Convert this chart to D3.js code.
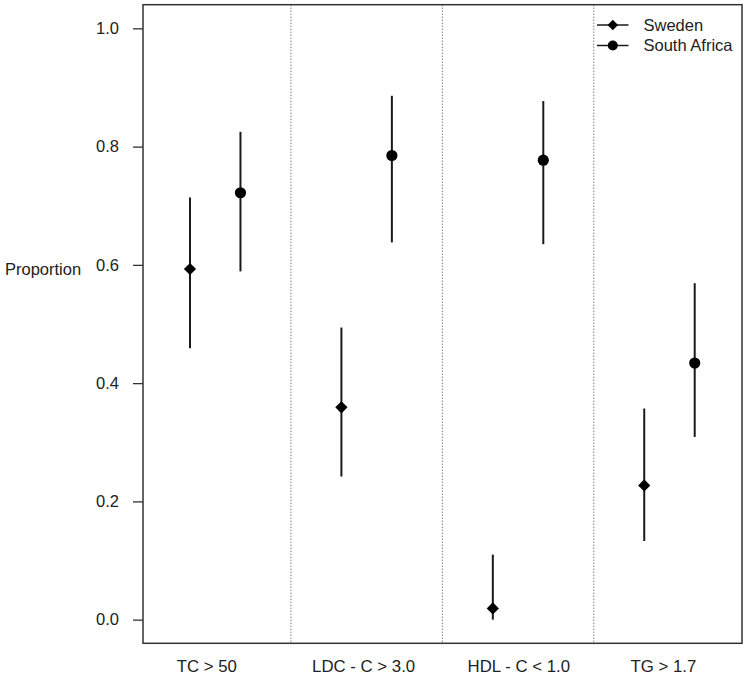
<!DOCTYPE html>
<html>
<head>
<meta charset="utf-8">
<script src="https://cdn.jsdelivr.net/npm/d3@7"></script>
<style>
  body { margin: 0; background: #fff; }
  svg text { font-family: "Liberation Sans", Arial, Helvetica, sans-serif; fill: #222; }
</style>
</head>
<body>
<svg id="chart" width="747" height="677"></svg>
<script>
// data
const categories = ["TC > 50", "LDC - C > 3.0", "HDL - C < 1.0", "TG > 1.7"];
const labelPos = [0.945, 1.98, 3.005, 3.96];   // where the group labels sit (x units)
const swedenEst   = [0.593, 0.359, 0.019, 0.227];
const swedenLow   = [0.459, 0.242, 0.000, 0.133];
const swedenHigh  = [0.714, 0.494, 0.110, 0.357];
const safricaEst  = [0.722, 0.785, 0.777, 0.434];
const safricaLow  = [0.589, 0.638, 0.635, 0.309];
const safricaHigh = [0.825, 0.886, 0.877, 0.569];
const yTicks = [0, 0.2, 0.4, 0.6, 0.8, 1.0];

const series = [
  { name: "Sweden", offset: -1/6, shape: "diamond", est: swedenEst, lo: swedenLow, hi: swedenHigh },
  { name: "South Africa", offset: 1/6, shape: "circle", est: safricaEst, lo: safricaLow, hi: safricaHigh }
];

const svg = d3.select("#chart");
const box = { left: 143, right: 742, top: 4.7, bottom: 643.3 };

const x = d3.scaleLinear().domain([0.523, 4.479]).range([box.left, box.right]);
const y = d3.scaleLinear().domain([-0.04, 1.04]).range([box.bottom, box.top]);

// dotted separators between groups
svg.append("g")
  .selectAll("line")
  .data(d3.range(1, categories.length))
  .enter().append("line")
  .attr("x1", d => x(d + 0.5)).attr("x2", d => x(d + 0.5))
  .attr("y1", box.top).attr("y2", box.bottom)
  .style("stroke", "#444")
  .style("stroke-width", 1)
  .style("stroke-dasharray", "1,2");

// y axis
svg.append("g")
  .attr("transform", "translate(" + box.left + ",0)")
  .call(d3.axisLeft(y).tickValues(yTicks).tickSize(10).tickPadding(14).tickFormat(d3.format(".1f")))
  .call(g => g.select(".domain").remove())
  .call(g => g.selectAll(".tick line").style("stroke", "#333").style("stroke-width", 1.3))
  .call(g => g.selectAll(".tick text").style("font-size", "16.5px").style("fill", "#222")
              .style("font-family", "'Liberation Sans', Arial, sans-serif"));

svg.append("text")
  .attr("x", 5)
  .attr("y", y(0.6) + 10)
  .style("font-size", "16.5px")
  .text("Proportion");

// x labels
svg.append("g")
  .selectAll("text")
  .data(categories)
  .enter().append("text")
  .attr("x", (d, i) => x(labelPos[i]))
  .attr("y", 672)
  .attr("text-anchor", "middle")
  .style("font-size", "16.8px")
  .text(d => d);

// error bars and points
const diamond = d3.symbol().type(d3.symbolDiamond2).size(95);
series.forEach(s => {
  const g = svg.append("g").attr("class", "series");
  g.selectAll("line")
    .data(categories)
    .enter().append("line")
    .attr("x1", (d, i) => x(i + 1 + s.offset))
    .attr("x2", (d, i) => x(i + 1 + s.offset))
    .attr("y1", (d, i) => y(s.lo[i]))
    .attr("y2", (d, i) => y(s.hi[i]))
    .style("stroke", "#1a1a1a")
    .style("stroke-width", 2);
  if (s.shape === "circle") {
    g.selectAll("circle")
      .data(categories)
      .enter().append("circle")
      .attr("cx", (d, i) => x(i + 1 + s.offset))
      .attr("cy", (d, i) => y(s.est[i]))
      .attr("r", 5.6)
      .style("fill", "#000");
  } else {
    g.selectAll("path")
      .data(categories)
      .enter().append("path")
      .attr("transform", (d, i) => "translate(" + x(i + 1 + s.offset) + "," + y(s.est[i]) + ")")
      .attr("d", diamond)
      .style("fill", "#000");
  }
});

// legend
const legend = svg.append("g").attr("transform", "translate(597,0)");
series.forEach((s, k) => {
  const ly = 25 + k * 20.5;
  legend.append("line")
    .attr("x1", 0).attr("x2", 31.5)
    .attr("y1", ly).attr("y2", ly)
    .style("stroke", "#1a1a1a").style("stroke-width", 1.5);
  if (s.shape === "circle") {
    legend.append("circle").attr("cx", 15.8).attr("cy", ly).attr("r", 5).style("fill", "#000");
  } else {
    legend.append("path")
      .attr("transform", "translate(15.8," + ly + ")")
      .attr("d", d3.symbol().type(d3.symbolDiamond2).size(70))
      .style("fill", "#000");
  }
  legend.append("text")
    .attr("x", 46.5).attr("y", ly)
    .attr("dy", "0.35em")
    .style("font-size", "16.5px")
    .text(s.name);
});

// plot frame
svg.append("rect")
  .attr("x", box.left).attr("y", box.top)
  .attr("width", box.right - box.left)
  .attr("height", box.bottom - box.top)
  .style("fill", "none")
  .style("stroke", "#333")
  .style("stroke-width", 1.5);
</script>
</body>
</html>
